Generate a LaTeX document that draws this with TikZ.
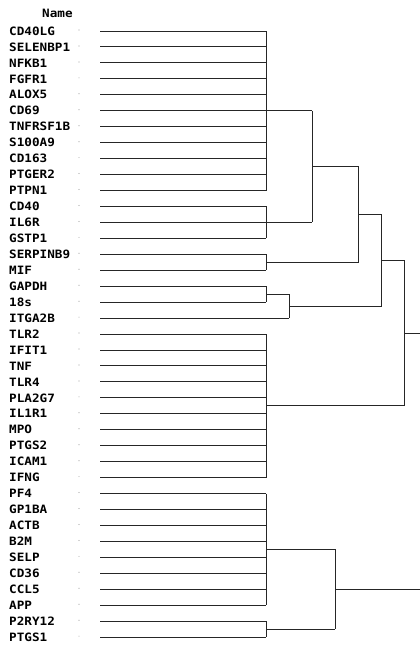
\documentclass[tikz,border=0pt]{standalone}
\usepackage{fontspec}
\newfontfamily\genefont{DejaVu Sans Mono}
\usetikzlibrary{calc}

\tikzset{
  gene/.style={anchor=west, inner sep=0pt, xscale=1.1,
    font=\genefont\bfseries\fontsize{11.5}{11.5}\selectfont},
  branch/.style={draw=black!85, line width=1pt},
  tick/.style={fill=black!35}
}

\begin{document}
\begin{tikzpicture}[x=1pt, y=-1pt]
    \useasboundingbox (0,0) rectangle (420,648);

    % labels, dots and leaf starts, one per row
    \node[gene] (name) at (42,13) {Name};
    \foreach \g [count=\i from 0] in {CD40LG,SELENBP1,NFKB1,FGFR1,ALOX5,CD69,
        TNFRSF1B,S100A9,CD163,PTGER2,PTPN1,CD40,IL6R,GSTP1,SERPINB9,MIF,GAPDH,
        18s,ITGA2B,TLR2,IFIT1,TNF,TLR4,PLA2G7,IL1R1,MPO,PTGS2,ICAM1,IFNG,PF4,
        GP1BA,ACTB,B2M,SELP,CD36,CCL5,APP,P2RY12,PTGS1} {
        \node[gene] (g\i) at (9,{31+15.95*\i}) {\g};
        \fill[tick] (79,{30+15.95*\i}) circle (0.6);
        \coordinate (s\i) at (100,{31+15.95*\i});
    }

    % join heights
    \coordinate (k1) at (266,0);
    \coordinate (k2) at (289,0);
    \coordinate (k3) at (312,0);
    \coordinate (k4) at (335,0);
    \coordinate (k5) at (358.7,0);
    \coordinate (k6) at (381.7,0);
    \coordinate (k7) at (404.3,0);
    \coordinate (kr) at (420,0);

    % leaves
    \foreach \i in {0,...,17,19,20,...,38}
        \draw[branch] (s\i) -- (s\i -| k1);
    \draw[branch] (s18) -- (s18 -| k2);

    % first level clusters
    \foreach \a/\b/\c in {0/10/A,11/13/B,14/15/C,16/17/D,19/28/E,29/36/F,37/38/G} {
        \draw[branch] (s\a -| k1) -- (s\b -| k1);
        \coordinate (m\c) at ($(s\a)!.5!(s\b)$);
    }

    % upper group
    \draw[branch] (mA -| k1) -- (mA -| k3);
    \draw[branch] (mB -| k1) -- (mB -| k3);
    \draw[branch] (mA -| k3) -- (mB -| k3);
    \coordinate (mAB) at ($(mA)!.5!(mB)$);
    \draw[branch] (mAB -| k3) -- (mAB -| k5);
    \draw[branch] (mC -| k1) -- (mC -| k5);
    \draw[branch] (mAB -| k5) -- (mC -| k5);
    \coordinate (mABC) at ($(mAB)!.5!(mC)$);
    \draw[branch] (mD -| k1) -- (mD -| k2);
    \draw[branch] (mD -| k2) -- (s18 -| k2);
    \coordinate (mDI) at ($(mD)!.5!(s18)$);
    \draw[branch] (mABC -| k5) -- (mABC -| k6);
    \draw[branch] (mDI -| k2) -- (mDI -| k6);
    \draw[branch] (mABC -| k6) -- (mDI -| k6);
    \coordinate (m6) at ($(mABC)!.5!(mDI)$);
    \draw[branch] (m6 -| k6) -- (m6 -| k7);
    \draw[branch] (mE -| k1) -- (mE -| k7);
    \draw[branch] (m6 -| k7) -- (mE -| k7);
    \coordinate (m7) at ($(m6)!.5!(mE)$);
    \draw[branch] (m7 -| k7) -- (m7 -| kr);

    % lower group
    \draw[branch] (mF -| k1) -- (mF -| k4);
    \draw[branch] (mG -| k1) -- (mG -| k4);
    \draw[branch] (mF -| k4) -- (mG -| k4);
    \coordinate (mFG) at ($(mF)!.5!(mG)$);
    \draw[branch] (mFG -| k4) -- (mFG -| kr);
\end{tikzpicture}
\end{document}
